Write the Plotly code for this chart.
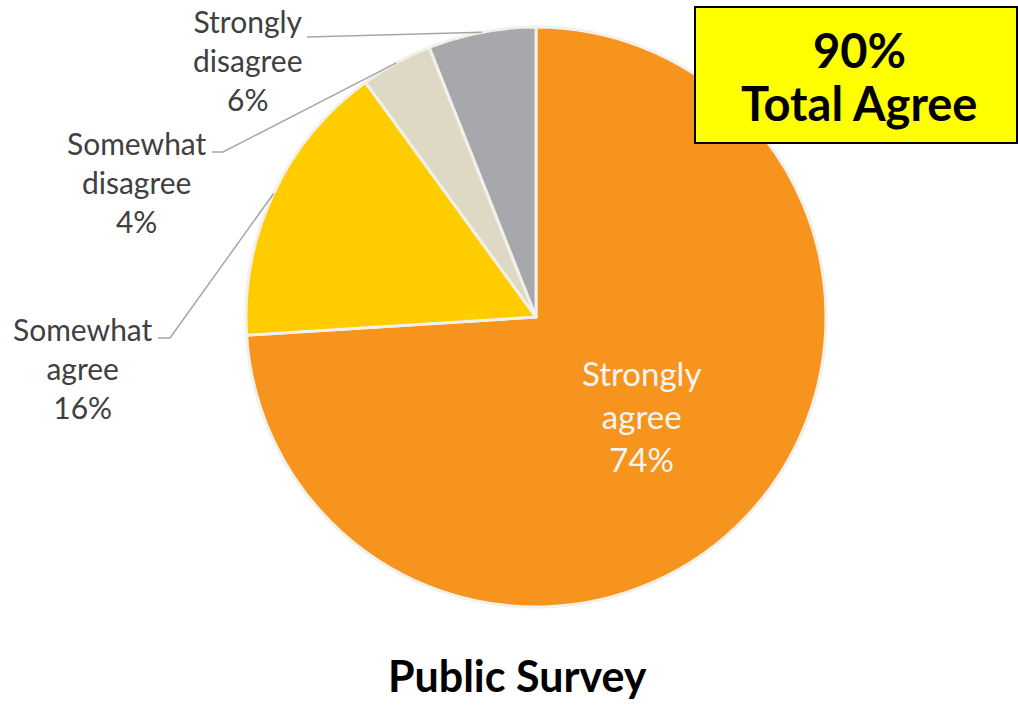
import math
import plotly.graph_objects as go

# ---- data ----
categories = ["Strongly agree", "Somewhat agree", "Somewhat disagree", "Strongly disagree"]
values = [74, 16, 4, 6]
colors = ["#F7941D", "#FFCC00", "#DDD9C4", "#A7A8AB"]
title_text = "Public Survey"
callout_lines = ["90%", "Total Agree"]

W, H = 1018, 705
CX, CY, R = 536, 317, 290


def px(x):
    return x / W


def py(y):
    return 1 - y / H


total = sum(values)
pct_labels = [f"{c.replace(' ', '<br>')}<br>{round(v / total * 100)}%" for c, v in zip(categories, values)]
textpos = ["inside", "none", "none", "none"]

fig = go.Figure(go.Pie(
    labels=categories,
    values=values,
    text=pct_labels,
    texttemplate="%{text}",
    textposition=textpos,
    insidetextorientation="horizontal",
    insidetextfont=dict(family="Lato", size=33, color="#F4F4F4"),
    marker=dict(colors=colors, line=dict(color="#F1F0EA", width=3)),
    sort=False,
    direction="clockwise",
    rotation=0,
    hole=0,
    showlegend=False,
    hoverinfo="label+percent",
    domain=dict(x=[px(CX - R), px(CX + R)], y=[py(CY + R), py(CY - R)]),
))

# outside labels + leader lines (positions in pixels, endpoints from data)
label_pos = {
    "Strongly disagree": (248, 60, [(307, 37)]),
    "Somewhat disagree": (137, 182, [(212, 152), (223, 152)]),
    "Somewhat agree": (83, 368, [(158, 338), (170, 338)]),
}
cum = 0
shapes = []
annotations = []
for c, v, t in zip(categories, values, pct_labels):
    mid = (cum + v / 2) / total * 2 * math.pi
    cum += v
    if c not in label_pos:
        continue
    lx, ly, pts = label_pos[c]
    ex = CX + R * math.sin(mid)
    ey = CY - R * math.cos(mid)
    allpts = pts + [(ex, ey)]
    path = "M " + " L ".join(f"{px(a)},{py(b)}" for a, b in allpts)
    shapes.append(dict(type="path", path=path, xref="paper", yref="paper",
                       line=dict(color="#A6A6A6", width=1.5)))
    annotations.append(dict(text=t, x=px(lx), y=py(ly), xref="paper", yref="paper",
                            showarrow=False, xanchor="center", yanchor="middle",
                            align="center",
                            font=dict(family="Lato", size=30, color="#404040")))

# callout box
shapes.append(dict(type="rect", xref="paper", yref="paper",
                   x0=px(695), x1=px(1017), y0=py(143), y1=py(7),
                   fillcolor="#FFFF00", line=dict(color="#000000", width=2)))
for line_text, ly in zip(callout_lines, [50, 103]):
    annotations.append(dict(text=f"<b>{line_text}</b>", x=px(859), y=py(ly),
                            xref="paper", yref="paper", showarrow=False,
                            xanchor="center", yanchor="middle", align="center",
                            font=dict(family="Lato", size=47, color="#000000")))
annotations.append(dict(text=f"<b>{title_text}</b>", x=px(517), y=py(675),
                        xref="paper", yref="paper", showarrow=False,
                        xanchor="center", yanchor="middle",
                        font=dict(family="Lato", size=43, color="#000000")))

fig.update_layout(
    width=W, height=H,
    margin=dict(l=0, r=0, t=0, b=0),
    paper_bgcolor="white",
    plot_bgcolor="white",
    shapes=shapes,
    annotations=annotations,
)

fig.write_html("out.html", config={"displayModeBar": False},
               post_script="document.body.style.margin='0';document.body.style.overflow='hidden';")
